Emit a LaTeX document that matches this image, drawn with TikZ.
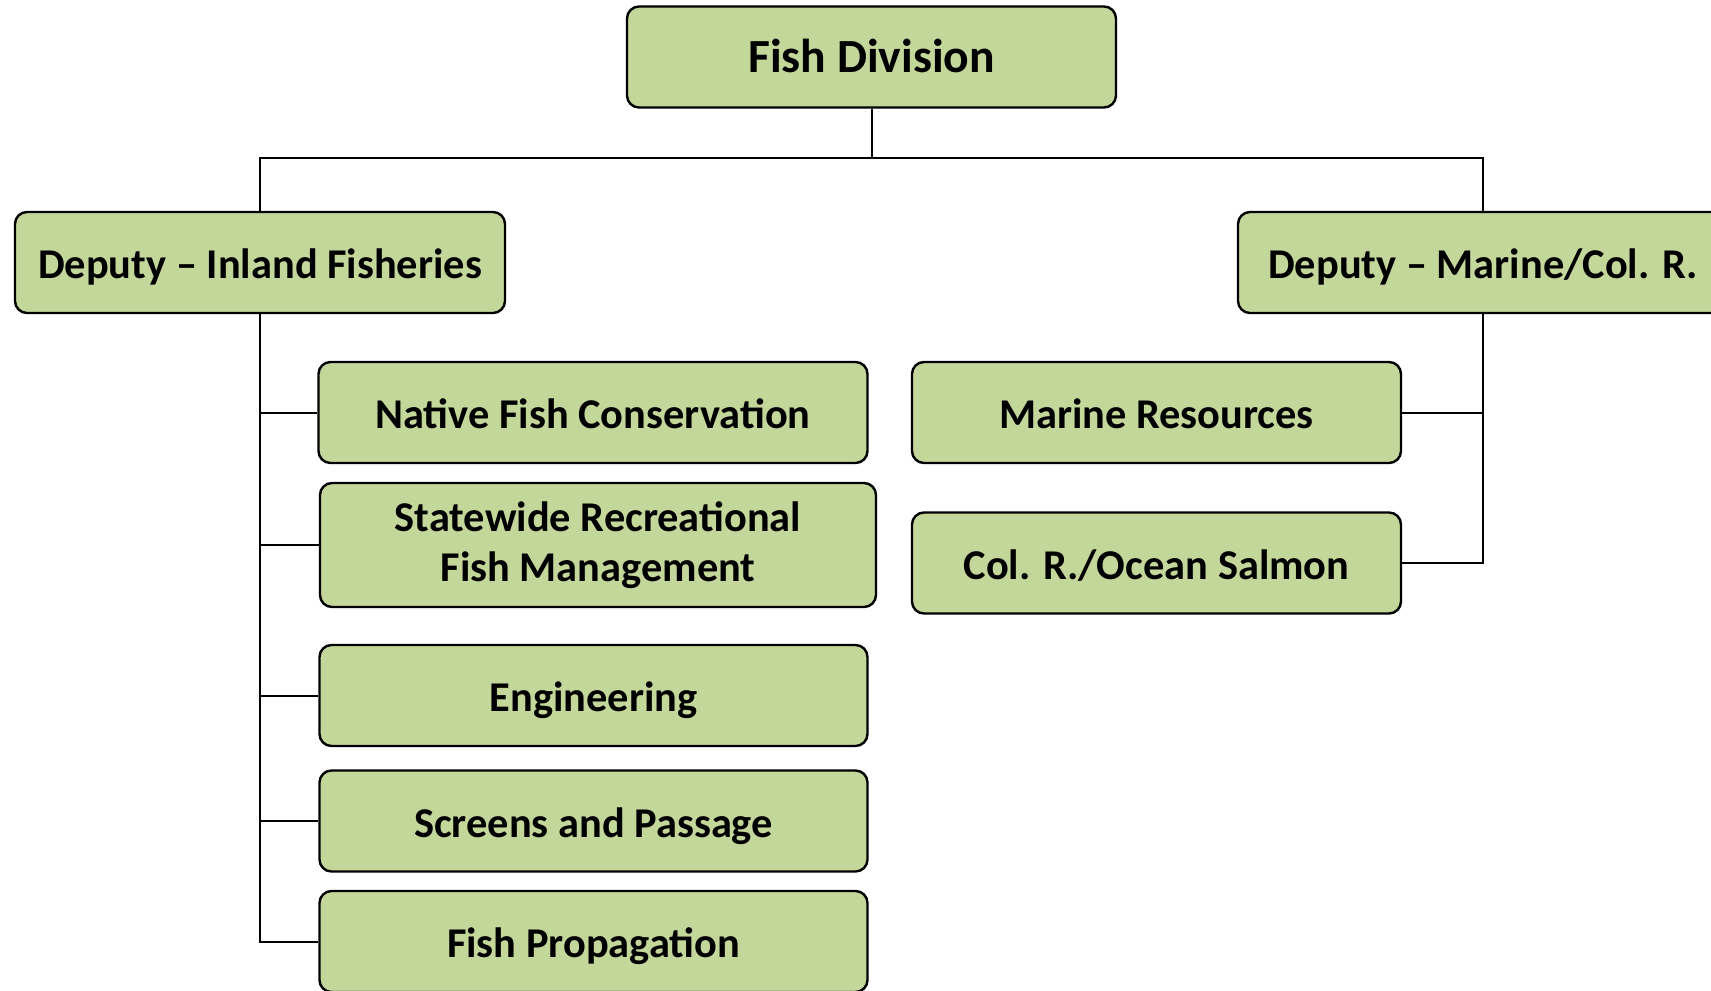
\documentclass[tikz,border=0pt]{standalone}
\usepackage{fontspec}
\setmainfont{Carlito}
\definecolor{boxgreen}{HTML}{C4D79B}

\begin{document}
\begin{tikzpicture}[x=0.5pt, y=-0.5pt,
    unit/.style={draw=black, fill=boxgreen, line width=1.2pt, rounded corners=6pt,
        inner sep=0pt, minimum height=50.5pt, align=center,
        font=\fontsize{21.2}{25}\selectfont\bfseries},
    oneline/.style={unit, text height=19pt, text depth=3pt},
    link/.style={black, line width=1pt}]
    \useasboundingbox (0,0) rectangle (1711,990);

    \node[oneline, minimum width=244.5pt, font=\fontsize{23.8}{25}\selectfont\bfseries] (div) at (871.5,57) {Fish Division};
    \node[oneline, minimum width=245pt] (inland) at (260,262.5) {Deputy -- Inland Fisheries};
    \node[oneline, minimum width=245pt] (marine) at (1483,262.5) {Deputy -- Marine/Col. R.};

    \node[oneline, minimum width=274.5pt] (native) at (593,412.5) {Native Fish Conservation};
    \node[unit, minimum width=278pt, minimum height=62pt] (statewide) at (598,545) {Statewide Recreational\\Fish Management};
    \node[oneline, minimum width=274pt] (eng) at (593.5,695.5) {Engineering};
    \node[oneline, minimum width=274pt] (screens) at (593.5,821) {Screens and Passage};
    \node[oneline, minimum width=274pt] (prop) at (593.5,941.5) {Fish Propagation};

    \node[oneline, minimum width=244.5pt] (marres) at (1156.5,412.5) {Marine Resources};
    \node[oneline, minimum width=244.5pt] (salmon) at (1156.5,563) {Col. R./Ocean Salmon};

    \coordinate (bus) at (871.5,158);
    \draw[link] (div.south) -- (bus);
    \draw[link] (inland.north) |- (bus) -| (marine.north);

    \draw[link] (inland.south) |- (prop.west);
    \foreach \n in {native,statewide,eng,screens}
        \draw[link] (\n.west) -- (\n.west -| inland.south);

    \draw[link] (marine.south) |- (salmon.east);
    \draw[link] (marres.east) -- (marres.east -| marine.south);
\end{tikzpicture}
\end{document}
